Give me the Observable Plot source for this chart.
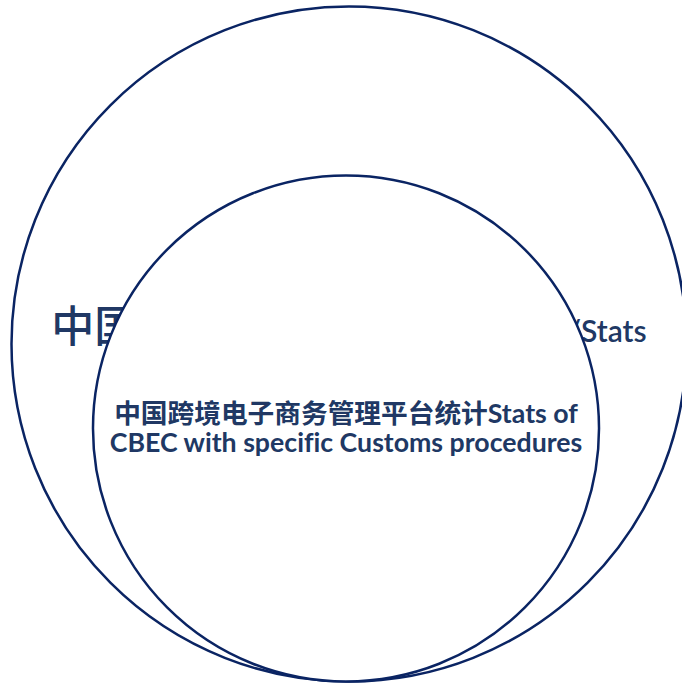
<!DOCTYPE html>
<html><head><meta charset="utf-8">
<script src="https://cdn.jsdelivr.net/npm/d3@7"></script>
<script src="https://cdn.jsdelivr.net/npm/@observablehq/plot@0.6"></script>
<style>
html,body{margin:0;padding:0;background:#fff;overflow:hidden}
#chart{width:682px;height:683px;overflow:hidden}
#chart text{font-variant-ligatures:none}
</style>
</head><body><div id="chart"></div>
<script>
// Nested sets (relative sizes, outer = 100)
const setNames = ["中国跨境电子商务海关统计/Stats", "中国跨境电子商务管理平台统计Stats of CBEC with specific Customs procedures"];
const setSizes = [100, 56.2];
const outerLabelZh = "中国跨境电子商务海关统计";
const outerLabelEn = "/Stats";
const innerLabel = "中国跨境电子商务管理平台统计Stats of\nCBEC with specific Customs procedures";

const W = 682, H = 683;
const rMax = 337.5;          // pixel radius of the largest set
const baseY = 681;           // circles share a bottom tangent point
const centersX = [348.5, 345.5];

const circles = setNames.map((name, i) => {
  const r = rMax * Math.sqrt(setSizes[i] / setSizes[0]);
  return {name, size: setSizes[i], cx: centersX[i], cy: baseY - r};
});
const outer = circles[0], inner = circles[1];

const stroke = "#0a2463";
const textColor = "#203864";
const font = "Lato, 'Noto Sans CJK SC', sans-serif";
const svgns = "http://www.w3.org/2000/svg";

const chart = Plot.plot({
  width: W, height: H, margin: 0,
  style: {fontFamily: font, background: "#fff", overflow: "hidden"},
  x: {domain: [0, W], range: [0, W], axis: null},
  y: {domain: [0, H], range: [0, H], axis: null},
  r: {type: "sqrt", domain: [0, setSizes[0]], range: [0, rMax]},
  marks: [
    Plot.dot([outer], {x: "cx", y: "cy", r: "size", stroke, strokeWidth: 2.5, fill: "white"}),
    Plot.text([outer], {
      x: "cx", y: d => d.cy - 12, text: d => outerLabelZh + outerLabelEn,
      fontSize: 30, fontWeight: 600, fill: textColor, fontFamily: font, textAnchor: "middle",
      render(index, scales, values, dims, context, next) {
        const g = next(index, scales, values, dims, context);
        g.querySelectorAll("text").forEach(t => {
          t.textContent = "";
          const a = document.createElementNS(svgns, "tspan");
          a.setAttribute("font-size", 43);
          a.setAttribute("font-weight", 500);
          a.textContent = outerLabelZh;
          const b = document.createElementNS(svgns, "tspan");
          b.setAttribute("font-size", 30);
          b.textContent = outerLabelEn;
          t.append(a, b);
        });
        return g;
      }
    }),
    Plot.dot([inner], {x: "cx", y: "cy", r: "size", stroke, strokeWidth: 2.5, fill: "white"}),
    Plot.text([inner], {
      x: "cx", y: "cy", text: () => innerLabel,
      fontSize: 26.7, fontWeight: "bold", lineHeight: 1.06,
      fill: textColor, fontFamily: font, textAnchor: "middle"
    })
  ]
});
document.getElementById("chart").append(chart);
</script>
</body></html>
